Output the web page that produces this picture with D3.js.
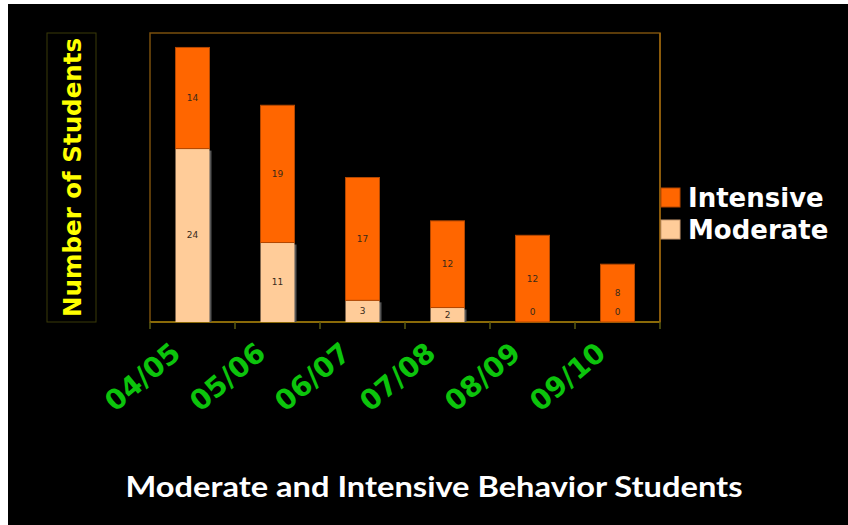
<!DOCTYPE html>
<html>
<head>
<meta charset="utf-8">
<script src="https://cdn.jsdelivr.net/npm/d3@7"></script>
<style>
  html, body { margin: 0; padding: 0; background: #fff; }
  svg { display: block; }
</style>
</head>
<body>
<svg id="chart" width="848" height="525"></svg>
<script>
const years = ['04/05', '05/06', '06/07', '07/08', '08/09', '09/10']
const moderate = [24, 11, 3, 2, 0, 0]
const intensive = [14, 19, 17, 12, 12, 8]
const seriesNames = ['Intensive', 'Moderate']
const yMax = 40

const colors = { Moderate: '#ffcc99', Intensive: '#ff6600' }

const margin = { top: 33, right: 188, bottom: 203, left: 150 }
const width = 848, height = 525
const innerW = width - margin.left - margin.right
const innerH = height - margin.top - margin.bottom

const svg = d3.select('#chart')

// black slide background (white strip at top/left like the screenshot)
svg.append('rect').attr('x', 8).attr('y', 4).attr('width', width - 8).attr('height', height - 4).attr('fill', '#000')

const x = d3.scaleBand()
  .domain(years)
  .range([margin.left, margin.left + innerW])
  .paddingInner(0.6)
  .paddingOuter(0.3)

const y = d3.scaleLinear()
  .domain([0, yMax])
  .range([margin.top + innerH, margin.top])

// plot border
svg.append('rect')
  .attr('x', margin.left).attr('y', margin.top)
  .attr('width', innerW).attr('height', innerH)
  .attr('fill', 'none').attr('stroke', '#7a4f0c').attr('stroke-width', 1.5)
svg.append('line')
  .attr('x1', margin.left + innerW).attr('x2', margin.left + innerW)
  .attr('y1', margin.top).attr('y2', y(0))
  .attr('stroke', '#9a660c').attr('stroke-width', 1.5)

// bottom axis with ticks on category boundaries
const step = x.step()
const boundaries = d3.range(years.length + 1).map(i => margin.left + i * step)
const axisG = svg.append('g')
axisG.append('line')
  .attr('x1', margin.left).attr('x2', margin.left + innerW)
  .attr('y1', y(0)).attr('y2', y(0))
  .attr('stroke', '#8a6a08').attr('stroke-width', 2)
axisG.selectAll('line.tick')
  .data(boundaries)
  .join('line')
  .attr('class', 'tick')
  .attr('x1', d => d).attr('x2', d => d)
  .attr('y1', y(0)).attr('y2', y(0) + 7)
  .attr('stroke', '#5a5a10').attr('stroke-width', 1.5)

// stacked data
const rows = years.map((yr, i) => ({ year: yr, Moderate: moderate[i], Intensive: intensive[i] }))
const stack = d3.stack().keys(['Moderate', 'Intensive'])(rows)

const barsG = svg.append('g')
stack.forEach(layer => {
  const key = layer.key
  // shadow for moderate bars
  if (key === 'Moderate') {
    barsG.selectAll('rect.shadow')
      .data(layer.filter(d => d[1] > d[0]))
      .join('rect')
      .attr('class', 'shadow')
      .attr('x', d => x(d.data.year) + 2)
      .attr('y', d => y(d[1]) + 2)
      .attr('width', x.bandwidth())
      .attr('height', d => y(d[0]) - y(d[1]) - 2)
      .attr('fill', '#555')
  }
  barsG.append('g').selectAll('rect')
    .data(layer.filter(d => d[1] > d[0]))
    .join('rect')
    .attr('x', d => x(d.data.year))
    .attr('y', d => y(d[1]))
    .attr('width', x.bandwidth())
    .attr('height', d => y(d[0]) - y(d[1]))
    .attr('fill', colors[key])
    .attr('stroke', key === 'Intensive' ? '#b34700' : 'none')
    .attr('stroke-width', 1)
})

// value labels
const labelG = svg.append('g')
  .attr('font-family', 'DejaVu Sans, Verdana, sans-serif')
  .attr('font-size', 9)
  .attr('fill', '#3a2a1a')
  .attr('text-anchor', 'middle')
stack.forEach(layer => {
  labelG.selectAll(null)
    .data(layer)
    .join('text')
    .attr('x', d => x(d.data.year) + x.bandwidth() / 2)
    .attr('y', d => {
      const v = d[1] - d[0]
      if (v === 0) return y(0) - 7
      return (y(d[0]) + y(d[1])) / 2 + 3
    })
    .text(d => d[1] - d[0])
})

// x tick labels
svg.append('g')
  .attr('font-family', 'DejaVu Sans, Verdana, sans-serif')
  .attr('font-weight', 'bold')
  .attr('font-size', 28)
  .attr('fill', '#0cc40c')
  .attr('text-anchor', 'end')
  .selectAll('text')
  .data(years)
  .join('text')
  .attr('transform', d => `translate(${x(d) + x.bandwidth() / 2 - 10},${y(0) + 34}) rotate(-40)`)
  .text(d => d)

// y axis title box
svg.append('rect')
  .attr('x', 47).attr('y', margin.top)
  .attr('width', 49).attr('height', innerH)
  .attr('fill', 'none').attr('stroke', '#3a3a08').attr('stroke-width', 1)
svg.append('text')
  .attr('transform', `translate(81,${margin.top + innerH / 2}) rotate(-90)`)
  .attr('text-anchor', 'middle')
  .attr('font-family', 'DejaVu Sans, Verdana, sans-serif')
  .attr('font-weight', 'bold')
  .attr('font-size', 24.5)
  .attr('fill', '#ffff00')
  .text('Number of Students')

// legend
const legend = svg.append('g').attr('transform', 'translate(661,188)')
legend.selectAll('g')
  .data(seriesNames)
  .join('g')
  .attr('transform', (d, i) => `translate(0,${i * 32})`)
  .call(g => {
    g.append('rect')
      .attr('width', 19).attr('height', 19)
      .attr('fill', d => colors[d])
      .attr('stroke', d => d === 'Intensive' ? '#b34700' : '#c99a70')
    g.append('text')
      .attr('x', 27).attr('y', 19)
      .attr('font-family', 'DejaVu Sans, Verdana, sans-serif')
      .attr('font-weight', 'bold')
      .attr('font-size', 26)
      .attr('fill', '#fff')
      .text(d => d)
  })

// chart title
svg.append('text')
  .attr('x', 434).attr('y', 497)
  .attr('text-anchor', 'middle')
  .attr('font-family', 'Comic Sans MS, Lato, sans-serif')
  .attr('font-weight', 'bold')
  .attr('font-size', 28)
  .attr('fill', '#fff')
  .attr('textLength', 617)
  .attr('lengthAdjust', 'spacingAndGlyphs')
  .text('Moderate and Intensive Behavior Students')
</script>
</body>
</html>
